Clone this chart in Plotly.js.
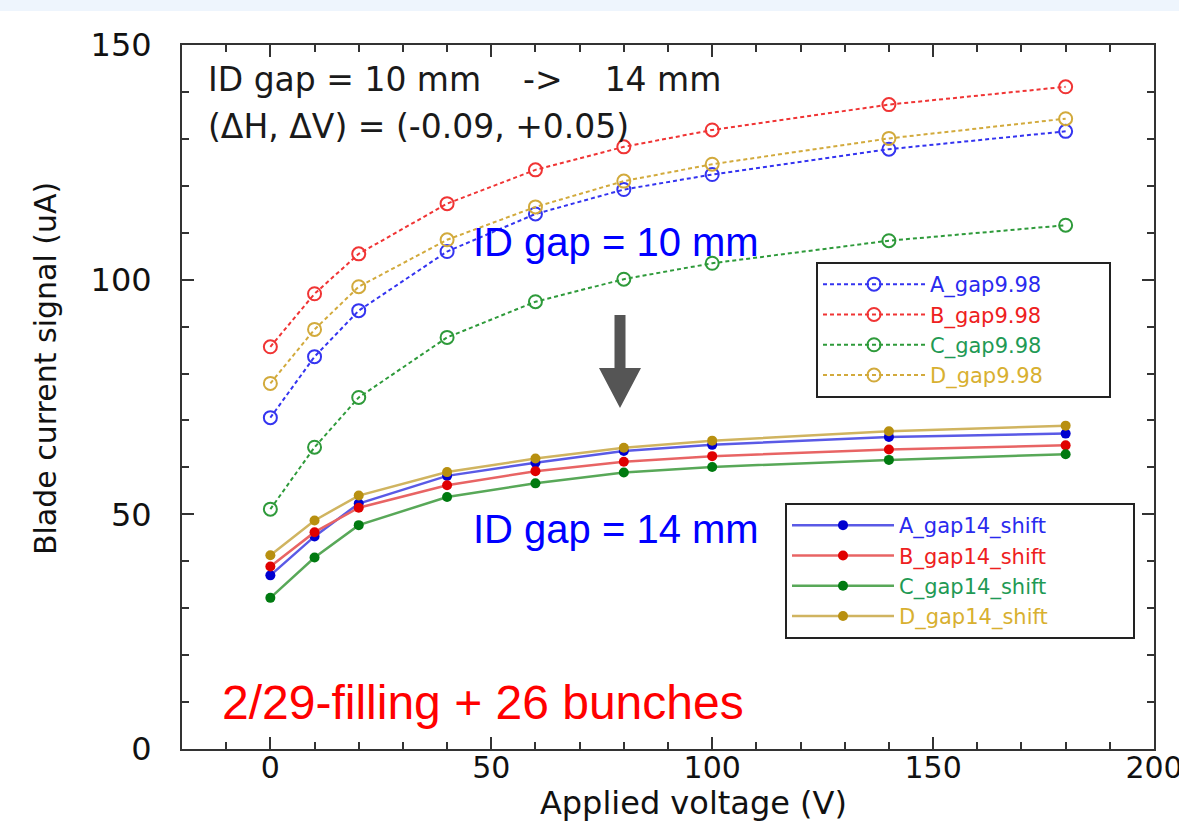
<!DOCTYPE html>
<html>
<head>
<meta charset="utf-8">
<script src="https://cdn.plot.ly/plotly-3.0.1.min.js"></script>
<style>
  html, body { margin: 0; padding: 0; background: #ffffff; }
  #chart { width: 1179px; height: 822px; }
</style>
</head>
<body>
<div id="chart"></div>
<script>
// ---------- data ----------
const voltage = [0, 10, 20, 40, 60, 80, 100, 140, 180];

const A_gap998 = [70.6, 83.6, 93.4, 106.0, 114.0, 119.2, 122.4, 127.8, 131.6];
const B_gap998 = [85.7, 97.0, 105.5, 116.2, 123.4, 128.3, 131.9, 137.3, 141.1];
const C_gap998 = [51.1, 64.3, 74.9, 87.7, 95.3, 100.1, 103.5, 108.3, 111.6];
const D_gap998 = [77.9, 89.4, 98.5, 108.5, 115.5, 121.0, 124.6, 130.1, 134.3];

const A_gap14 = [37.0, 45.3, 52.3, 58.2, 61.0, 63.5, 64.8, 66.5, 67.2];
const B_gap14 = [38.9, 46.2, 51.4, 56.2, 59.2, 61.2, 62.4, 63.8, 64.7];
const C_gap14 = [32.2, 40.8, 47.7, 53.7, 56.6, 58.9, 60.1, 61.6, 62.8];
const D_gap14 = [41.3, 48.7, 54.0, 59.0, 61.9, 64.2, 65.7, 67.7, 68.9];

const namesDashed = ['A_gap9.98', 'B_gap9.98', 'C_gap9.98', 'D_gap9.98'];
const namesSolid = ['A_gap14_shift', 'B_gap14_shift', 'C_gap14_shift', 'D_gap14_shift'];

const xTitle = 'Applied voltage (V)';
const yTitle = 'Blade current signal (uA)';

// ---------- styles ----------
const dashedColors = ['#3434f0', '#f03434', '#2e9a3a', '#d2aa3c'];
const solidLine = ['#5a5ae6', '#e86464', '#58a858', '#d0b460'];
const solidMarker = ['#0000d0', '#e00000', '#007a10', '#b89010'];
const textColors = ['#2a2aee', '#ee2020', '#1f9a55', '#d8b030'];

const FONT = 'DejaVu Sans, Liberation Sans, Arial, sans-serif';
const NARROW = 'Liberation Sans, Arial, sans-serif';
const NB = n => '\u00a0'.repeat(n);
const LEAD = n => '\u200b' + NB(n);   // keeps a leading offset so the title sits where the reference has it

const dashedSeries = [A_gap998, B_gap998, C_gap998, D_gap998];
const solidSeries = [A_gap14, B_gap14, C_gap14, D_gap14];

const traces = [];
dashedSeries.forEach((ys, i) => {
  traces.push({
    x: voltage, y: ys, type: 'scatter', mode: 'lines+markers',
    name: '<span style="color:' + textColors[i] + '">' + namesDashed[i] + '</span>' + NB(9),
    legend: 'legend',
    line: { color: dashedColors[i], width: 2, dash: '4px,3px' },
    marker: { symbol: 'circle-open', size: 13, color: dashedColors[i], line: { width: 2, color: dashedColors[i] } }
  });
});
solidSeries.forEach((ys, i) => {
  traces.push({
    x: voltage, y: ys, type: 'scatter', mode: 'lines+markers',
    name: '<span style="color:' + textColors[i] + '">' + namesSolid[i] + '</span>' + NB(12),
    legend: 'legend2',
    line: { color: solidLine[i], width: 2.5 },
    marker: { symbol: 'circle', size: 10, color: solidMarker[i] }
  });
});

// plot area in pixels (for decorations only)
const L = 182, R = 1154, T = 45, B = 749;
const px = v => (v - L) / (R - L);
const py = v => (B - v) / (B - T);

const arrowPts = [[614.5, 315], [625.5, 315], [625.5, 368], [641, 368], [620, 408], [599, 368], [614.5, 368]];
const arrowPath = 'M' + arrowPts.map(p => px(p[0]).toFixed(5) + ',' + py(p[1]).toFixed(5)).join(' L') + ' Z';

const axisCommon = {
  ticks: 'inside', ticklen: 12, tickwidth: 2, tickcolor: '#333',
  showline: true, linecolor: '#333', linewidth: 2, mirror: 'ticks',
  showgrid: false, zeroline: false, ticklabeloverflow: 'allow',
  tickfont: { family: FONT, size: 32, color: '#111' },
  minor: { ticks: 'inside', ticklen: 7, tickwidth: 2, tickcolor: '#333', dtick: 10, showgrid: false }
};

const legendCommon = {
  xanchor: 'left', yanchor: 'top', bgcolor: '#ffffff',
  bordercolor: '#222', borderwidth: 2,
  font: { family: FONT, size: 21, color: '#222' },
  itemwidth: 102, tracegroupgap: 0
};

const layout = {
  width: 1179, height: 822,
  margin: { l: L, r: 1179 - R, t: T, b: 822 - B, pad: 0 },
  paper_bgcolor: '#ffffff', plot_bgcolor: '#ffffff',
  showlegend: true,
  xaxis: Object.assign({}, axisCommon, {
    range: [-20, 200], tick0: 0, dtick: 50,
    tickfont: { family: FONT, size: 30, color: '#111' },
    ticklabelstandoff: -9,
    title: { text: LEAD(5) + xTitle, font: { family: FONT, size: 32, color: '#111' }, standoff: 18 }
  }),
  yaxis: Object.assign({}, axisCommon, {
    range: [0, 150], tick0: 0, dtick: 50,
    ticklabelstandoff: 22,
    title: { text: LEAD(6) + yTitle, font: { family: FONT, size: 30, color: '#111' }, standoff: 25 }
  }),
  legend: Object.assign({}, legendCommon, { x: px(816), y: py(262) }),
  legend2: Object.assign({}, legendCommon, { x: px(785), y: py(503) }),
  shapes: [
    { type: 'rect', xref: 'paper', yref: 'paper', x0: px(0), x1: px(1179), y0: py(11), y1: py(0),
      fillcolor: '#eef5fd', line: { width: 0 }, layer: 'below' },
    { type: 'path', xref: 'paper', yref: 'paper', path: arrowPath,
      fillcolor: '#555555', line: { width: 0 } }
  ],
  annotations: [
    { xref: 'paper', yref: 'paper', x: px(206), y: py(80), xanchor: 'left', yanchor: 'middle',
      text: 'ID gap = 10 mm ' + NB(3) + '-> ' + NB(3) + '14 mm', showarrow: false,
      font: { family: FONT, size: 33, color: '#1a1a1a' } },
    { xref: 'paper', yref: 'paper', x: px(206), y: py(127), xanchor: 'left', yanchor: 'middle',
      text: '(\u0394H, \u0394V) = (-0.09, +0.05)', showarrow: false,
      font: { family: FONT, size: 33, color: '#1a1a1a' } },
    { xref: 'paper', yref: 'paper', x: px(471), y: py(242), xanchor: 'left', yanchor: 'middle',
      text: 'ID gap = 10 mm', showarrow: false,
      font: { family: NARROW, size: 40, color: '#0000ff' } },
    { xref: 'paper', yref: 'paper', x: px(471), y: py(529), xanchor: 'left', yanchor: 'middle',
      text: 'ID gap = 14 mm', showarrow: false,
      font: { family: NARROW, size: 40, color: '#0000ff' } },
    { xref: 'paper', yref: 'paper', x: px(220), y: py(702), xanchor: 'left', yanchor: 'middle',
      text: '2/29-filling + 26 bunches', showarrow: false,
      font: { family: NARROW, size: 48, color: '#ff0000' } }
  ]
};

Plotly.newPlot('chart', traces, layout, { displayModeBar: false, staticPlot: true });
</script>
</body>
</html>
